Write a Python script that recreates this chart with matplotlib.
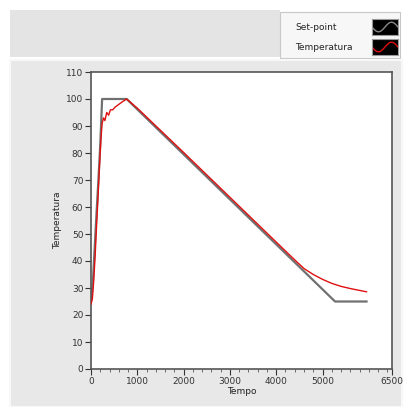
import numpy as np
import matplotlib
matplotlib.use("Agg")
import matplotlib.pyplot as plt
from matplotlib.patches import Rectangle

# set-point profile (tempo, temperatura)
sp_t = [0, 40, 80, 120, 160, 200, 240, 770, 5270, 5950]
sp_v = [25, 32, 45, 58, 70, 83, 100, 100, 25, 25]

# measured temperature
temp_t = [0, 30, 60, 90, 120, 150, 180, 210, 240, 270, 300, 340, 380, 420, 470, 520,
          600, 680, 770, 1000, 1500, 2000, 2500, 3000, 3500, 4000, 4400, 4600, 4800,
          5000, 5200, 5400, 5600, 5800, 5950]
temp_v = [24, 26, 33, 42, 53, 63, 74, 84, 91, 93, 92, 95, 94, 96, 96, 97,
          98, 99, 100, 96.6, 88.4, 80.2, 71.9, 63.6, 55.3, 47.0, 40.4, 37.2, 35.0,
          33.2, 31.7, 30.6, 29.8, 29.1, 28.6]

xticks = [0, 1000, 2000, 3000, 4000, 5000, 6500]
yticks = list(range(0, 111, 10))

fig = plt.figure(figsize=(4.07, 4.07), dpi=100)
fig.patch.set_facecolor("white")

W = H = 407.0
def fx(px): return px / W
def fy(py): return 1 - py / H

# background panels
fig.patches.append(Rectangle((fx(10), fy(57)), fx(270), 47 / H, transform=fig.transFigure,
                             facecolor="#e4e4e4", edgecolor="none", zorder=-10))
fig.patches.append(Rectangle((fx(280), fy(58)), fx(120), 46 / H, transform=fig.transFigure,
                             facecolor="#f7f7f7", edgecolor="#c8c8c8", lw=0.8, zorder=-10))
fig.patches.append(Rectangle((fx(10), fy(407)), fx(392), 347 / H, transform=fig.transFigure,
                             facecolor="#e8e8e8", edgecolor="#f8f8f8", lw=1.5, zorder=-10))

ax = fig.add_axes([fx(91), fy(369), fx(392) - fx(91), (369 - 72) / H])
ax.set_facecolor("white")
ax.plot(sp_t, sp_v, color="#707070", lw=1.6, zorder=2)
ax.plot(temp_t, temp_v, color="#e01010", lw=1.0, zorder=3)

ax.set_xlim(0, 6500)
ax.set_ylim(0, 110)
ax.set_xticks(xticks)
ax.set_xticks(np.arange(0, 6501, 200), minor=True)
ax.set_yticks(yticks)
ax.tick_params(axis="both", labelsize=6.5, colors="#333333", length=4, width=0.8, pad=1.5)
ax.tick_params(axis="x", which="minor", length=2, width=0.6, colors="#555555")
for s in ax.spines.values():
    s.set_color("#555555")
    s.set_linewidth(1.2)
ax.set_xlabel("Tempo", fontsize=6.5, color="#222222", labelpad=1)
ax.set_ylabel("Temperatura", fontsize=6.5, color="#222222", labelpad=3)

# legend
fig.text(fx(295), fy(27), "Set-point", fontsize=6.5, color="#222222", va="center")
fig.text(fx(295), fy(47), "Temperatura", fontsize=6.5, color="#222222", va="center")
for yc, col in [(27, "#8a8a8a"), (47, "#e01010")]:
    sw = fig.add_axes([fx(372), fy(yc + 8), fx(26), 16 / H])
    sw.set_facecolor("black")
    u = np.linspace(0, 1, 30)
    sw.plot(u, np.sin(u * 2 * np.pi + np.pi) * 0.6, color=col, lw=1.0)
    sw.set_xlim(0, 1)
    sw.set_ylim(-1, 1)
    sw.set_xticks([])
    sw.set_yticks([])
    for s in sw.spines.values():
        s.set_color("#999999")

fig.savefig("out.png", dpi=100, facecolor=fig.get_facecolor())
